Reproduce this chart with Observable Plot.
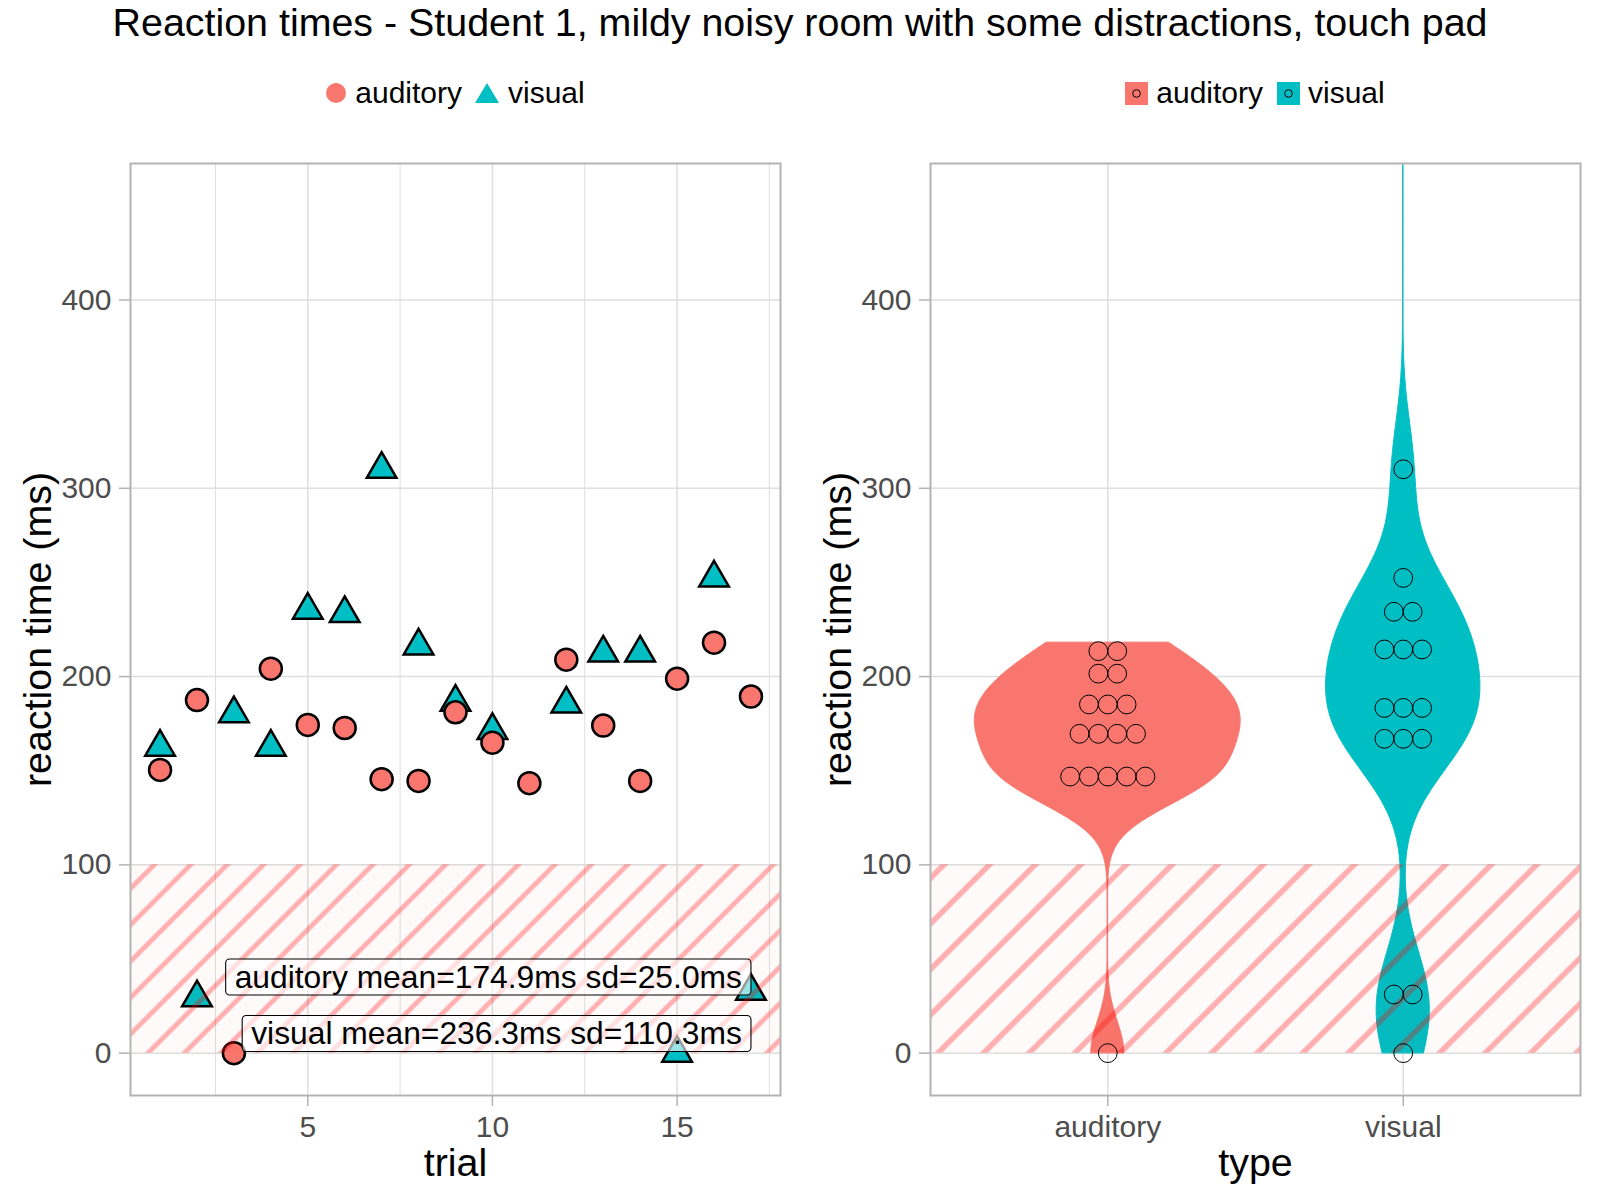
<!DOCTYPE html>
<html><head><meta charset="utf-8">
<script src="https://cdn.jsdelivr.net/npm/d3@7"></script>
<script src="https://cdn.jsdelivr.net/npm/@observablehq/plot@0.6"></script>
<style>
body{margin:0;background:#fff;}
#page{position:relative;width:1600px;height:1200px;font-family:"Liberation Sans",Arial,sans-serif;background:#fff;overflow:hidden}
#title{position:absolute;left:0;top:3px;width:1600px;text-align:center;font-size:39.4px;line-height:1;color:#000;white-space:nowrap}
.legend{position:absolute;top:73px;height:40px;display:flex;align-items:center;justify-content:center;font-size:30px;color:#000;}
.legend .item{display:flex;align-items:center;}
.legend svg{display:block}
.panel{position:absolute;top:140px}
</style></head><body>
<div id="page">
 <div id="title">Reaction times - Student 1, mildy noisy room with some distractions, touch pad</div>
 <div class="legend" id="legL" style="left:130px;width:650px"></div>
 <div class="legend" id="legR" style="left:930px;width:650px"></div>
 <div class="panel" id="pL" style="left:0"></div>
 <div class="panel" id="pR" style="left:800px"></div>
</div>
<script>
// ---------------- data ----------------
const trials = d3.range(1, 18);
const types = ["auditory", "visual"];
const typeColors = ["#F8766D", "#00BFC4"];
const auditoryMs = [150.4, 187.5, 0, 204.2, 174.3, 172.7, 145.5, 144.6, 181.0, 164.9, 143.4, 209.0, 174.0, 144.6, 198.9, 218.0, 189.4];
const visualMs   = [162.5, 29.4, 180.3, 162.5, 235.3, 233.5, 310.1, 216.3, 186.4, 171.4, 590.0, 185.4, 212.5, 212.5, 0, 252.4, 32.9];
const yTicks = [0, 100, 200, 300, 400];
const trialTicks = [5, 10, 15];
const trialMinorTicks = [2.5, 7.5, 12.5, 17.5];
const fastZone = [0, 100];
const statLabels = ["auditory mean=174.9ms sd=25.0ms", "visual mean=236.3ms sd=110.3ms"];
const statLabelY = [40, 10];
const dotBinwidth = 10;

// ---------------- layout ----------------
const FONT = '"Liberation Sans", Arial, sans-serif';
const W = 800, H = 1060, mT = 23, mB = 105, mL = 130, mR = 20;
const plotW = W - mL - mR, plotH = H - mT - mB;
const yDomain = [-22.5, 472.5];
const xDomainL = [0.2, 17.8];
const xDomainR = [0.4, 2.6];
const GRID = "#DEDEDE", BORDER = "#B3B3B3", TICKTXT = "#4D4D4D";

const series = {auditory: auditoryMs, visual: visualMs};
const rows = ["visual", "auditory"].flatMap(t => trials.map((tr, i) => ({trial: tr, type: t, ms: series[t][i]})));

// ---------------- violin (gaussian KDE, bw.nrd0, trimmed, scale = area) ----------------
function bwNrd0(v) {
  const s = d3.sort(v);
  const sd = d3.deviation(s);
  const iqr = d3.quantile(s, 0.75) - d3.quantile(s, 0.25);
  const lo = Math.min(sd, iqr / 1.34);
  return 0.9 * lo * Math.pow(v.length, -0.2);
}
function kde(v, bw, y) {
  return d3.sum(v, x => Math.exp(-0.5 * ((y - x) / bw) ** 2)) / (v.length * bw * Math.sqrt(2 * Math.PI));
}
const dens = types.map(t => {
  const v = series[t], bw = bwNrd0(v);
  const [lo, hi] = d3.extent(v);
  return d3.range(512).map(i => {
    const y = lo + (hi - lo) * i / 511;
    return {type: t, y, d: kde(v, bw, y)};
  });
});
const maxD = d3.max(dens.flat(), d => d.d);
const violin = dens.flatMap((arr, k) => arr.map(p => {
  const hw = 0.9 / 2 * p.d / maxD;
  return {type: p.type, y: p.y, x1: k + 1 - hw, x2: k + 1 + hw};
}));

// ---------------- dotplot (dot-density binning, stack centered) ----------------
const dotDiamPx = dotBinwidth * plotH / (yDomain[1] - yDomain[0]);
const dotStepX = dotDiamPx / (plotW / (xDomainR[1] - xDomainR[0]));
const dots = types.flatMap((t, k) => {
  const v = d3.sort(series[t]);
  const bins = [];
  let end = -Infinity;
  for (const x of v) {
    if (x >= end) { bins.push([]); end = x + dotBinwidth; }
    bins[bins.length - 1].push(x);
  }
  return bins.flatMap(b => {
    const c = (b[0] + b[b.length - 1]) / 2;
    return b.map((_, i) => ({type: t, y: c, x: k + 1 + (i - (b.length - 1) / 2) * dotStepX}));
  });
});

// ---------------- helpers ----------------
const baseOpts = {
  width: W, height: H, marginTop: mT, marginBottom: mB, marginLeft: mL, marginRight: mR,
  style: {fontFamily: FONT, fontSize: "30px", background: "white", overflow: "visible"},
  y: {domain: yDomain},
  color: {domain: types, range: typeColors}
};
const axisStyle = {tickSize: 11, stroke: BORDER, strokeWidth: 1.5, color: TICKTXT, textStroke: "none", fontSize: 30, label: null};
function commonMarks(xTitle, hatchId) {
  return {
    hatch: [
      Plot.rect([fastZone], {y1: d => d[0], y2: d => d[1], fill: "#FF0000", fillOpacity: 0.02}),
      Plot.rect([fastZone], {y1: d => d[0], y2: d => d[1], fill: `url(#${hatchId})`})
    ],
    decor: [
      Plot.frame({stroke: BORDER, strokeWidth: 2}),
      Plot.axisY(yTicks, {...axisStyle, tickPadding: 8}),
      Plot.text([xTitle], {frameAnchor: "bottom", dy: 68, text: d => d, fontSize: 39.4, fill: "black", lineAnchor: "middle", textAnchor: "middle"}),
      Plot.text(["reaction time (ms)"], {frameAnchor: "left", dx: -92, rotate: -90, text: d => d, fontSize: 39.4, fill: "black", lineAnchor: "middle", textAnchor: "middle"})
    ]
  };
}
function addHatch(svg, id, spacingH, ox, oy, w) {
  const sp = spacingH / Math.SQRT2;
  const defs = document.createElementNS("http://www.w3.org/2000/svg", "defs");
  defs.innerHTML = `<pattern id="${id}" patternUnits="userSpaceOnUse" width="${sp}" height="${sp}" patternTransform="translate(${ox},${oy}) rotate(45)">` +
    `<rect x="0" y="0" width="${w / 2}" height="${sp}" fill="#FF0000" fill-opacity="0.3"/>` +
    `<rect x="${sp - w / 2}" y="0" width="${w / 2}" height="${sp}" fill="#FF0000" fill-opacity="0.3"/></pattern>`;
  svg.insertBefore(defs, svg.firstChild);
}

// ---------------- left panel ----------------
const cl = commonMarks("trial", "hatchL");
const left = Plot.plot({
  ...baseOpts,
  x: {domain: xDomainL},
  symbol: {domain: types, range: ["circle", "triangle"]},
  marks: [
    Plot.gridX(trialMinorTicks, {stroke: GRID, strokeOpacity: 1, strokeWidth: 1}),
    Plot.gridX(trialTicks, {stroke: GRID, strokeOpacity: 1, strokeWidth: 1.5}),
    Plot.gridY(yTicks, {stroke: GRID, strokeOpacity: 1, strokeWidth: 1.5}),
    Plot.dot(rows, {x: "trial", y: "ms", fill: "type", symbol: "type", r: 11, stroke: "black", strokeWidth: 2.5, clip: true}),
    ...cl.hatch,
    Plot.text(statLabels, {x: d3.max(trials), y: (d, i) => statLabelY[i], text: d => d, textAnchor: "end", dx: -9, fontSize: 31.8, fill: "black", lineAnchor: "middle"}),
    ...cl.decor,
    Plot.axisX(trialTicks, {...axisStyle, tickPadding: 9})
  ]
});
addHatch(left, "hatchL", 36.4, 148, 913, 4.8);
document.getElementById("pL").appendChild(left);

// label boxes
const labelG = [...left.querySelectorAll('g[aria-label="text"]')].find(g => g.textContent.includes("mean="));
if (labelG) {
  for (const t of [...labelG.querySelectorAll("text")]) {
    const b = t.getBBox();
    const r = document.createElementNS("http://www.w3.org/2000/svg", "rect");
    r.setAttribute("x", b.x - 9); r.setAttribute("y", b.y);
    r.setAttribute("width", b.width + 18); r.setAttribute("height", b.height);
    r.setAttribute("rx", 4);
    r.setAttribute("fill", "white"); r.setAttribute("fill-opacity", 0.6);
    r.setAttribute("stroke", "black"); r.setAttribute("stroke-width", 1.1);
    if (t.getAttribute("transform")) r.setAttribute("transform", t.getAttribute("transform"));
    labelG.insertBefore(r, t);
  }
}

// ---------------- right panel ----------------
const cr = commonMarks("type", "hatchR");
const right = Plot.plot({
  ...baseOpts,
  x: {domain: xDomainR},
  marks: [
    Plot.gridX([1, 2], {stroke: GRID, strokeOpacity: 1, strokeWidth: 1.5}),
    Plot.gridY(yTicks, {stroke: GRID, strokeOpacity: 1, strokeWidth: 1.5}),
    Plot.areaX(violin, {y: "y", x1: "x1", x2: "x2", fill: "type", stroke: "type", strokeWidth: 1, clip: true}),
    ...cr.hatch,
    Plot.dot(dots, {x: "x", y: "y", r: dotDiamPx / 2, stroke: "black", strokeWidth: 1, fill: "none", clip: true}),
    ...cr.decor,
    Plot.axisX([1, 2], {...axisStyle, tickPadding: 9, tickFormat: i => types[i - 1]})
  ]
});
addHatch(right, "hatchR", 45.6, 138, 913, 5.5);
document.getElementById("pR").appendChild(right);

// ---------------- legends ----------------
function legendItem(symbolSvg, label, gapAfter) {
  const it = document.createElement("div");
  it.className = "item";
  it.style.marginRight = gapAfter + "px";
  it.innerHTML = symbolSvg + `<span style="margin-left:8px">${label}</span>`;
  return it;
}
const legL = document.getElementById("legL");
legL.appendChild(legendItem(`<svg width="22" height="22"><circle cx="11" cy="11" r="10" fill="${typeColors[0]}"/></svg>`, types[0], 12));
legL.appendChild(legendItem(`<svg width="26" height="24"><path d="M13,2L25,22L1,22Z" fill="${typeColors[1]}"/></svg>`, types[1], 0));
const legR = document.getElementById("legR");
types.forEach((t, i) => {
  legR.appendChild(legendItem(`<svg width="23" height="23"><rect width="23" height="23" fill="${typeColors[i]}"/><circle cx="11.5" cy="11.5" r="3.8" fill="none" stroke="black" stroke-width="1"/></svg>`, t, i === 0 ? 14 : 0));
});
</script>
</body></html>
